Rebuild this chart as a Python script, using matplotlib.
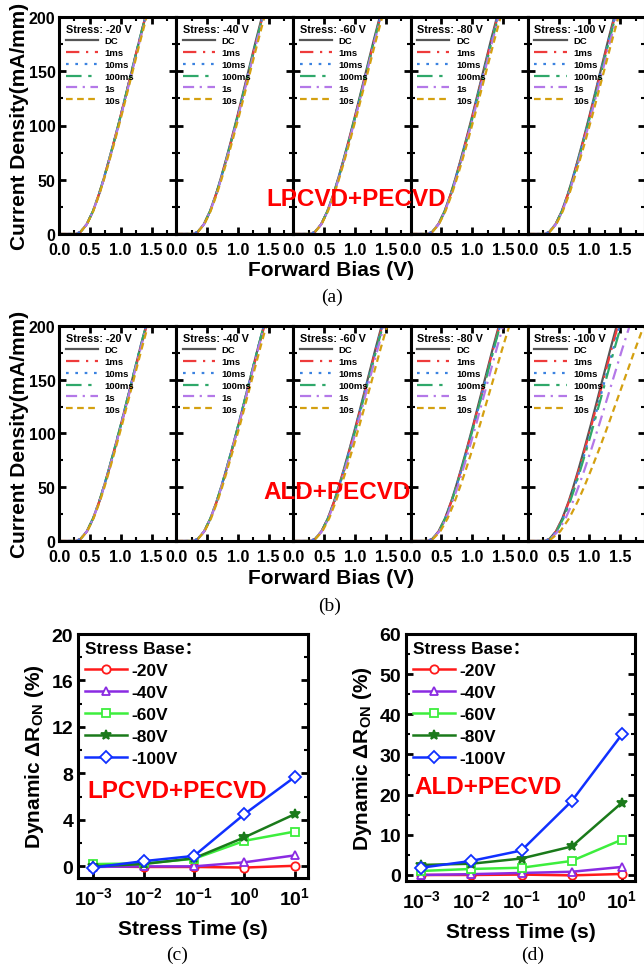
import numpy as np
import matplotlib
matplotlib.use("Agg")
import matplotlib.pyplot as plt
from matplotlib.ticker import MultipleLocator, LogLocator, NullLocator, FormatStrFormatter

plt.rcParams['font.family'] = ['Liberation Sans', 'Noto Sans CJK SC', 'DejaVu Sans']
plt.rcParams['font.weight'] = 'bold'
plt.rcParams['axes.labelweight'] = 'bold'
plt.rcParams['mathtext.default'] = 'regular'
plt.rcParams['axes.linewidth'] = 2.2

# ---- J-V curves (panels a, b) ----
current_levels = [0, 0, 2, 9, 21, 37, 50, 66, 87, 109, 132, 155, 178, 200]   # mA/mm
bias_dc = [0.0, 0.27, 0.35, 0.45, 0.55, 0.65, 0.72, 0.80, 0.90, 1.00, 1.10, 1.20, 1.30, 1.40]  # V
onset_bias = 0.27

stress_labels = ['-20 V', '-40 V', '-60 V', '-80 V', '-100 V']
pulse_labels = ['DC', '1ms', '10ms', '100ms', '1s', '10s']

# bias where each curve reaches 200 mA/mm (rows: stress, cols: pulse)
top_bias_lpcvd = [
    [1.40, 1.40, 1.40, 1.40, 1.41, 1.42],
    [1.39, 1.40, 1.40, 1.40, 1.41, 1.43],
    [1.40, 1.41, 1.41, 1.41, 1.42, 1.44],
    [1.40, 1.41, 1.41, 1.42, 1.43, 1.46],
    [1.40, 1.41, 1.41, 1.42, 1.44, 1.47],
]
top_bias_ald = [
    [1.41, 1.42, 1.41, 1.41, 1.42, 1.44],
    [1.42, 1.43, 1.42, 1.42, 1.43, 1.46],
    [1.43, 1.44, 1.44, 1.45, 1.47, 1.52],
    [1.43, 1.44, 1.45, 1.45, 1.50, 1.60],
    [1.44, 1.46, 1.49, 1.51, 1.65, 1.88],
]

pulse_colors = ['#555555', '#ee3b3b', '#3b82e0', '#2fa86a', '#b478e8', '#d4a010']
pulse_styles = ['-', (0, (6, 3, 1, 3)), (0, (1.2, 3)), (0, (7, 3, 1.5, 3)),
                (0, (5, 2.5, 1, 2.5)), (0, (3, 2))]

# ---- dynamic Ron (panels c, d) ----
stress_time = [1e-3, 1e-2, 1e-1, 1, 10]
base_labels = ['-20V', '-40V', '-60V', '-80V', '-100V']
dr_lpcvd = [
    [0.0, -0.05, -0.05, -0.1, 0.05],
    [-0.05, 0.0, 0.0, 0.35, 0.95],
    [0.2, 0.25, 0.65, 2.2, 3.0],
    [0.0, 0.2, 0.7, 2.5, 4.5],
    [-0.1, 0.45, 0.9, 4.5, 7.7],
]
dr_ald = [
    [0.0, 0.0, 0.1, -0.1, 0.25],
    [0.0, 0.2, 0.5, 0.8, 2.0],
    [1.0, 1.5, 1.8, 3.5, 8.8],
    [2.5, 2.8, 4.1, 7.1, 18.0],
    [1.8, 3.5, 6.1, 18.4, 35.0],
]
base_colors = ['#ff1a1a', '#8a2be2', '#3dee3d', '#1a7a1a', '#1030ff']
base_markers = ['o', '^', 's', '*', 'D']

W, H = 644, 978
fig = plt.figure(figsize=(W / 100, H / 100), dpi=100)


def px_axes(left, top, right, bottom):
    return fig.add_axes([left / W, 1 - bottom / H, (right - left) / W, (bottom - top) / H])


def jv_row(top_px, bottom_px, top_bias):
    pw = 117.2
    for i, stress in enumerate(stress_labels):
        ax = px_axes(59 + i * pw, top_px, 59 + (i + 1) * pw, bottom_px)
        for j, lab in enumerate(pulse_labels):
            k = (top_bias[i][j] - onset_bias) / (bias_dc[-1] - onset_bias)
            v = [b if b <= onset_bias else onset_bias + (b - onset_bias) * k for b in bias_dc]
            ax.plot(v, current_levels, color=pulse_colors[j], ls=pulse_styles[j],
                    lw=1.6, label=lab)
        ax.set_xlim(0, 1.9)
        ax.set_ylim(0, 200)
        ax.xaxis.set_major_locator(MultipleLocator(0.5))
        ax.xaxis.set_minor_locator(MultipleLocator(0.25))
        ax.yaxis.set_major_locator(MultipleLocator(50))
        ax.yaxis.set_minor_locator(MultipleLocator(25))
        ax.tick_params(which='both', direction='in', top=True, right=True, labelsize=11.5)
        ax.tick_params(axis='x', pad=6)
        ax.tick_params(axis='y', pad=2.5)
        ax.tick_params(which='major', length=5, width=2)
        ax.tick_params(which='minor', length=3, width=1.5)
        ax.xaxis.set_major_formatter(FormatStrFormatter('%.1f'))
        if i > 0:
            ax.set_yticklabels([])
        leg = ax.legend(title='Stress: ' + stress, loc='upper left', frameon=False,
                        fontsize=6.8, title_fontsize=7.8, handlelength=3.4,
                        handletextpad=0.7, labelspacing=0.3, borderaxespad=0.3,
                        alignment='left')
        leg.get_title().set_fontweight('bold')


jv_row(18, 235, top_bias_lpcvd)
jv_row(327, 542, top_bias_ald)

fig.text(20 / W, 1 - 126 / H, 'Current Density(mA/mm)', rotation=90, fontsize=15,
         ha='center', va='center')
fig.text(20 / W, 1 - 434 / H, 'Current Density(mA/mm)', rotation=90, fontsize=15,
         ha='center', va='center')
fig.text(331 / W, 1 - 271 / H, 'Forward Bias (V)', fontsize=15, ha='center', va='center')
fig.text(331 / W, 1 - 578 / H, 'Forward Bias (V)', fontsize=15, ha='center', va='center')
fig.text(356 / W, 1 - 200 / H, 'LPCVD+PECVD', color='red', fontsize=17.5,
         ha='center', va='center')
fig.text(337 / W, 1 - 493 / H, 'ALD+PECVD', color='red', fontsize=17.5,
         ha='center', va='center')

for cap, x, y in [('(a)', 332, 297), ('(b)', 330, 606), ('(c)', 177, 955), ('(d)', 533, 955)]:
    fig.text(x / W, 1 - y / H, cap, fontsize=14, family='Liberation Serif',
             weight='normal', ha='center', va='center')


def dr_panel(rect, data, ylim, ystep, yminor, text, text_xy):
    ax = px_axes(*rect)
    for i, lab in enumerate(base_labels):
        filled = base_markers[i] == '*'
        ax.plot(stress_time, data[i], color=base_colors[i], marker=base_markers[i],
                ms=7.5 if filled else 6, mfc=base_colors[i] if filled else 'white',
                mew=1.3, lw=1.8, label=lab)
    ax.set_xscale('log')
    ax.set_xlim(10 ** -3.3, 10 ** 1.26)
    ax.set_ylim(*ylim)
    ax.xaxis.set_major_locator(LogLocator(base=10, numticks=10))
    ax.xaxis.set_minor_locator(NullLocator())
    ax.yaxis.set_major_locator(MultipleLocator(ystep))
    ax.yaxis.set_minor_locator(MultipleLocator(yminor))
    ax.tick_params(which='both', direction='in', right=True, labelsize=14)
    ax.tick_params(axis='x', pad=6)
    ax.tick_params(which='major', length=5, width=2)
    ax.tick_params(which='minor', length=3, width=1.5)
    ax.set_xlabel('Stress Time (s)', fontsize=15, labelpad=8)
    ax.set_ylabel(r'Dynamic $\Delta$R$_{\mathregular{ON}}$ (%)', fontsize=15, labelpad=4)
    leg = ax.legend(title='Stress Base：', loc='upper left', frameon=False, fontsize=12.5,
                    title_fontsize=12.5, handlelength=2.4, handletextpad=0.3,
                    labelspacing=0.4, borderaxespad=0.1, borderpad=0.3, alignment='left')
    leg.get_title().set_fontweight('bold')
    fig.text(text_xy[0] / W, 1 - text_xy[1] / H, text, color='red', fontsize=17.5,
             ha='center', va='center')
    return ax


dr_panel((78, 635, 308, 879), dr_lpcvd, (-1, 20), 4, 2, 'LPCVD+PECVD', (177, 792))
dr_panel((406, 635, 635, 882), dr_ald, (-1.5, 60), 10, 5, 'ALD+PECVD', (488, 788))

fig.savefig('out.png', dpi=100)
